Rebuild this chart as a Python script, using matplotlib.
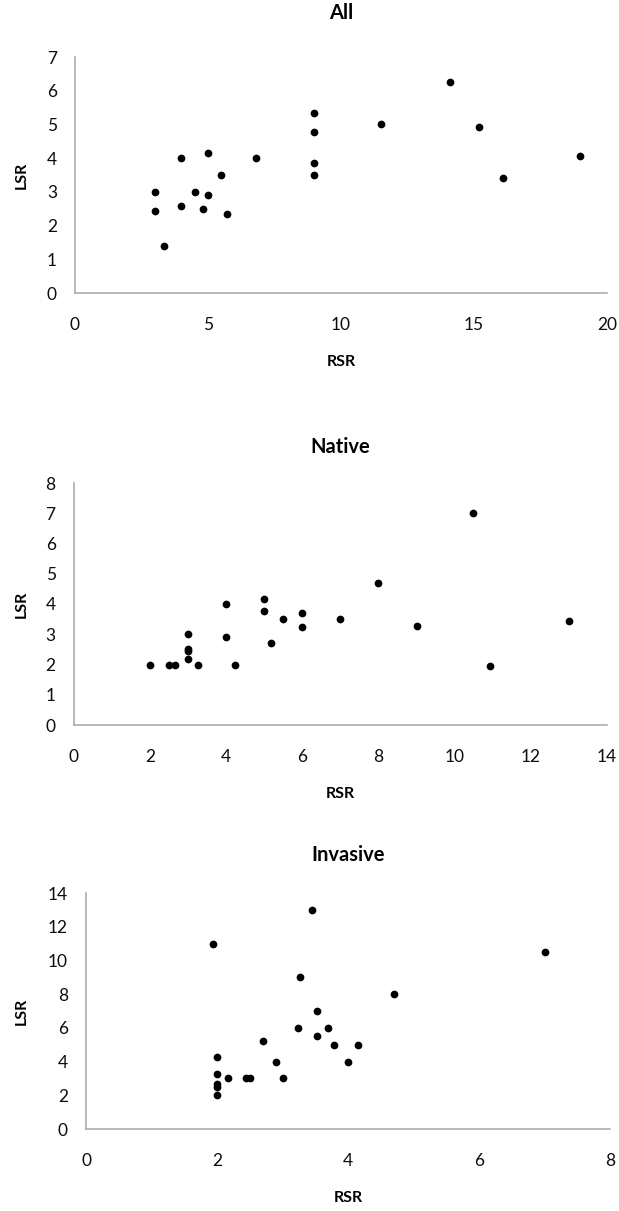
import matplotlib
matplotlib.use("Agg")
import matplotlib.pyplot as plt

plt.rcParams['font.family'] = ['Lato', 'DejaVu Sans']

# ---- data ----
all_rsr = [3.0, 3.0, 3.35, 4.0, 4.0, 4.5, 4.8, 5.0, 5.0, 5.5, 5.7, 6.8,
           9.0, 9.0, 9.0, 9.0, 11.5, 14.1, 15.2, 16.1, 19.0]
all_lsr = [3.0, 2.43, 1.38, 4.0, 2.58, 3.0, 2.5, 4.14, 2.9, 3.5, 2.33, 4.0,
           5.35, 4.79, 3.86, 3.5, 5.0, 6.25, 4.93, 3.4, 4.07]

native_rsr = [2.0, 2.5, 2.67, 3.0, 3.0, 3.0, 3.0, 3.27, 4.0, 4.0, 4.24, 5.0, 5.0,
              5.18, 5.5, 6.0, 6.0, 7.0, 8.0, 9.0, 10.47, 10.94, 13.0]
native_lsr = [2.0, 2.0, 2.0, 3.0, 2.5, 2.45, 2.17, 2.0, 4.0, 2.9, 2.0, 4.15, 3.78,
              2.71, 3.52, 3.69, 3.24, 3.52, 4.7, 3.27, 7.0, 1.94, 3.45]

invasive_rsr = [1.94, 3.45, 7.0, 3.27, 4.7, 3.52, 3.24, 3.69, 3.52, 3.78, 4.15, 2.7,
                2.0, 2.9, 4.0, 2.0, 2.17, 2.45, 2.5, 3.0, 2.0, 2.0, 2.0]
invasive_lsr = [11.0, 13.0, 10.5, 9.0, 8.0, 7.0, 6.0, 6.0, 5.5, 5.0, 5.0, 5.2,
                4.25, 4.0, 4.0, 3.27, 3.0, 3.0, 3.0, 3.0, 2.67, 2.5, 2.0]

titles = ["All", "Native", "Invasive"]
x_ticks = [[0, 5, 10, 15, 20], [0, 2, 4, 6, 8, 10, 12, 14], [0, 2, 4, 6, 8]]
y_ticks = [[0, 1, 2, 3, 4, 5, 6, 7], [0, 1, 2, 3, 4, 5, 6, 7, 8], [0, 2, 4, 6, 8, 10, 12, 14]]
x_label = "RSR"
y_label = "LSR"

# ---- layout (pixels) ----
W, H = 619, 1211
boxes = [(75, 607, 57, 293), (73.7, 607, 483, 725), (86, 610, 893, 1129)]
title_y = [13, 447, 855]

fig = plt.figure(figsize=(W / 100, H / 100), dpi=100)
series = [(all_rsr, all_lsr), (native_rsr, native_lsr), (invasive_rsr, invasive_lsr)]

for i, ((l, r, t, b), (xs, ys)) in enumerate(zip(boxes, series)):
    ax = fig.add_axes([l / W, 1 - b / H, (r - l) / W, (b - t) / H])
    ax.scatter(xs, ys, s=31, color='black', linewidths=0, clip_on=False, zorder=3)
    ax.set_xlim(x_ticks[i][0], x_ticks[i][-1])
    ax.set_ylim(y_ticks[i][0], y_ticks[i][-1])
    ax.set_xticks(x_ticks[i])
    ax.set_yticks(y_ticks[i])
    for s in ['top', 'right']:
        ax.spines[s].set_visible(False)
    for s in ['left', 'bottom']:
        ax.spines[s].set_color('#a6a6a6')
        ax.spines[s].set_linewidth(1.1)
    ax.tick_params(axis='x', length=0, pad=17, labelsize=12.5, labelcolor='#0d0d0d')
    ax.tick_params(axis='y', length=0, pad=13, labelsize=12.5, labelcolor='#0d0d0d')
    h = b - t
    ax.set_xlabel(x_label, fontsize=11.5, fontweight='bold')
    ax.xaxis.set_label_coords(0.5, -69 / h)
    ax.xaxis.label.set_va('center')
    ax.set_ylabel(y_label, fontsize=11.5, fontweight='bold')
    ax.yaxis.set_label_coords((22 - l) / (r - l), 0.5)
    ax.yaxis.label.set_va('center')
    fig.text((l + r) / 2 / W, 1 - title_y[i] / H, titles[i], ha='center', va='center',
             fontsize=14.5, fontweight='bold')

fig.savefig("out.png", dpi=100)
